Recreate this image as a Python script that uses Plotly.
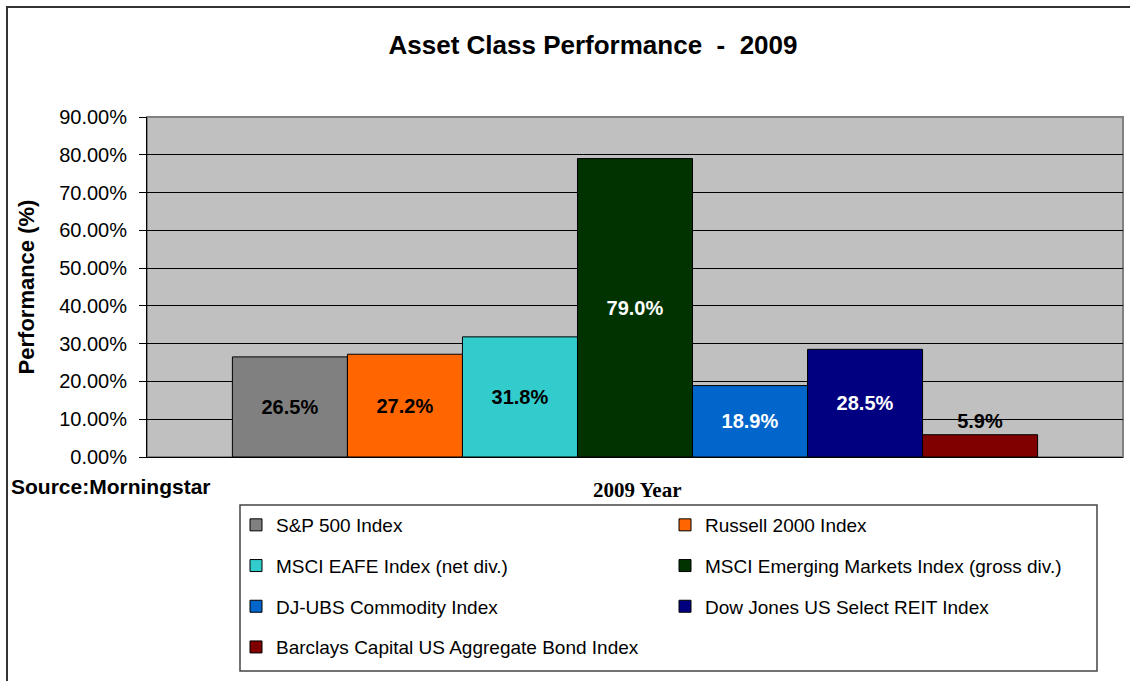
import plotly.graph_objects as go

names = ["S&P 500 Index", "Russell 2000 Index", "MSCI EAFE Index (net div.)",
         "MSCI Emerging Markets Index (gross div.)", "DJ-UBS Commodity Index",
         "Dow Jones US Select REIT Index", "Barclays Capital US Aggregate Bond Index"]
values = [0.265, 0.272, 0.318, 0.790, 0.189, 0.285, 0.059]
labels = ["26.5%", "27.2%", "31.8%", "79.0%", "18.9%", "28.5%", "5.9%"]
colors = ["#808080", "#FF6600", "#33CCCC", "#003300", "#0066CC", "#000080", "#800000"]
label_colors = ["black", "black", "black", "white", "white", "white", "black"]
legend_cols = ["legend", "legend2", "legend", "legend2", "legend", "legend2", "legend"]
category = "2009 Year"
yticks = [0, 0.1, 0.2, 0.3, 0.4, 0.5, 0.6, 0.7, 0.8, 0.9]

FONT = "Liberation Sans, Arial, sans-serif"

fig = go.Figure()
for n, v, lab, c, lc, lg in zip(names, values, labels, colors, label_colors, legend_cols):
    fig.add_trace(go.Bar(
        x=[category], y=[v], name=n, text=["<b>" + lab + "</b>"],
        textposition="outside" if v < 0.1 else "inside",
        insidetextanchor="middle", textangle=0,
        textfont=dict(family=FONT, size=20, color=lc),
        outsidetextfont=dict(family=FONT, size=20, color=lc),
        marker=dict(color=c, line=dict(color="black", width=1)),
        legend=lg, legendgroup=n, cliponaxis=False,
    ))

W, H = 1130, 681
L, R, T, B = 147, 7, 117, 224
pw, ph = W - L - R, H - T - B

def px_x(x):
    return (x - L) / pw

def px_y(y):
    return (H - B - y) / ph

fig.update_layout(
    width=W, height=H,
    margin=dict(l=L, r=R, t=T, b=B, autoexpand=False),
    paper_bgcolor="white", plot_bgcolor="#C0C0C0",
    barmode="group", bargap=0.175, bargroupgap=0,
    font=dict(family=FONT, size=18, color="black"),
    title=dict(text="<b>Asset Class Performance\u00a0\u00a0-\u00a0\u00a02009</b>",
               x=593 / W, xanchor="center", y=1 - 45 / H, yanchor="middle",
               font=dict(family=FONT, size=26, color="black")),
    xaxis=dict(range=[-0.5, 0.5], showticklabels=False, showgrid=False,
               showline=True, linecolor="black", linewidth=1, ticks=""),
    yaxis=dict(range=[0, 0.9], tickvals=yticks, tickformat=".2%",
               showgrid=True, gridcolor="#000000", gridwidth=1,
               showline=True, linecolor="black", linewidth=1,
               ticks="outside", ticklen=7, tickcolor="black",
               ticklabelstandoff=8,
               tickfont=dict(family=FONT, size=20),
               title=dict(text="<b>Performance (%)</b>", standoff=18,
                          font=dict(family=FONT, size=22)),
               zeroline=False),
    showlegend=True,
    legend=dict(x=px_x(236), y=px_y(506), xanchor="left", yanchor="top",
                orientation="v", tracegroupgap=13, bgcolor="rgba(0,0,0,0)",
                font=dict(family=FONT, size=19)),
    legend2=dict(x=px_x(665), y=px_y(506), xanchor="left", yanchor="top",
                 orientation="v", tracegroupgap=13, bgcolor="rgba(0,0,0,0)",
                 font=dict(family=FONT, size=19)),
    shapes=[
        dict(type="rect", xref="paper", yref="paper", x0=0, x1=1, y0=0, y1=1,
             line=dict(color="#808080", width=2), layer="below"),
        dict(type="rect", xref="paper", yref="paper",
             x0=px_x(7), x1=px_x(1140), y0=px_y(7), y1=px_y(700),
             line=dict(color="#333333", width=2), fillcolor="rgba(0,0,0,0)"),
        dict(type="rect", xref="paper", yref="paper",
             x0=px_x(240), x1=px_x(1097), y0=px_y(505), y1=px_y(671),
             line=dict(color="#444444", width=1.5), fillcolor="rgba(0,0,0,0)"),
    ],
    annotations=[
        dict(text="<b>Source:Morningstar</b>", xref="paper", yref="paper",
             x=px_x(9), y=px_y(487), xanchor="left", yanchor="middle",
             showarrow=False, font=dict(family=FONT, size=21)),
        dict(text="<b>" + category + "</b>", xref="paper", yref="paper",
             x=px_x(637), y=px_y(490), xanchor="center", yanchor="middle",
             showarrow=False, font=dict(family="Liberation Serif, Times New Roman, serif", size=21)),
    ],
)

fig.write_html("out.html")
